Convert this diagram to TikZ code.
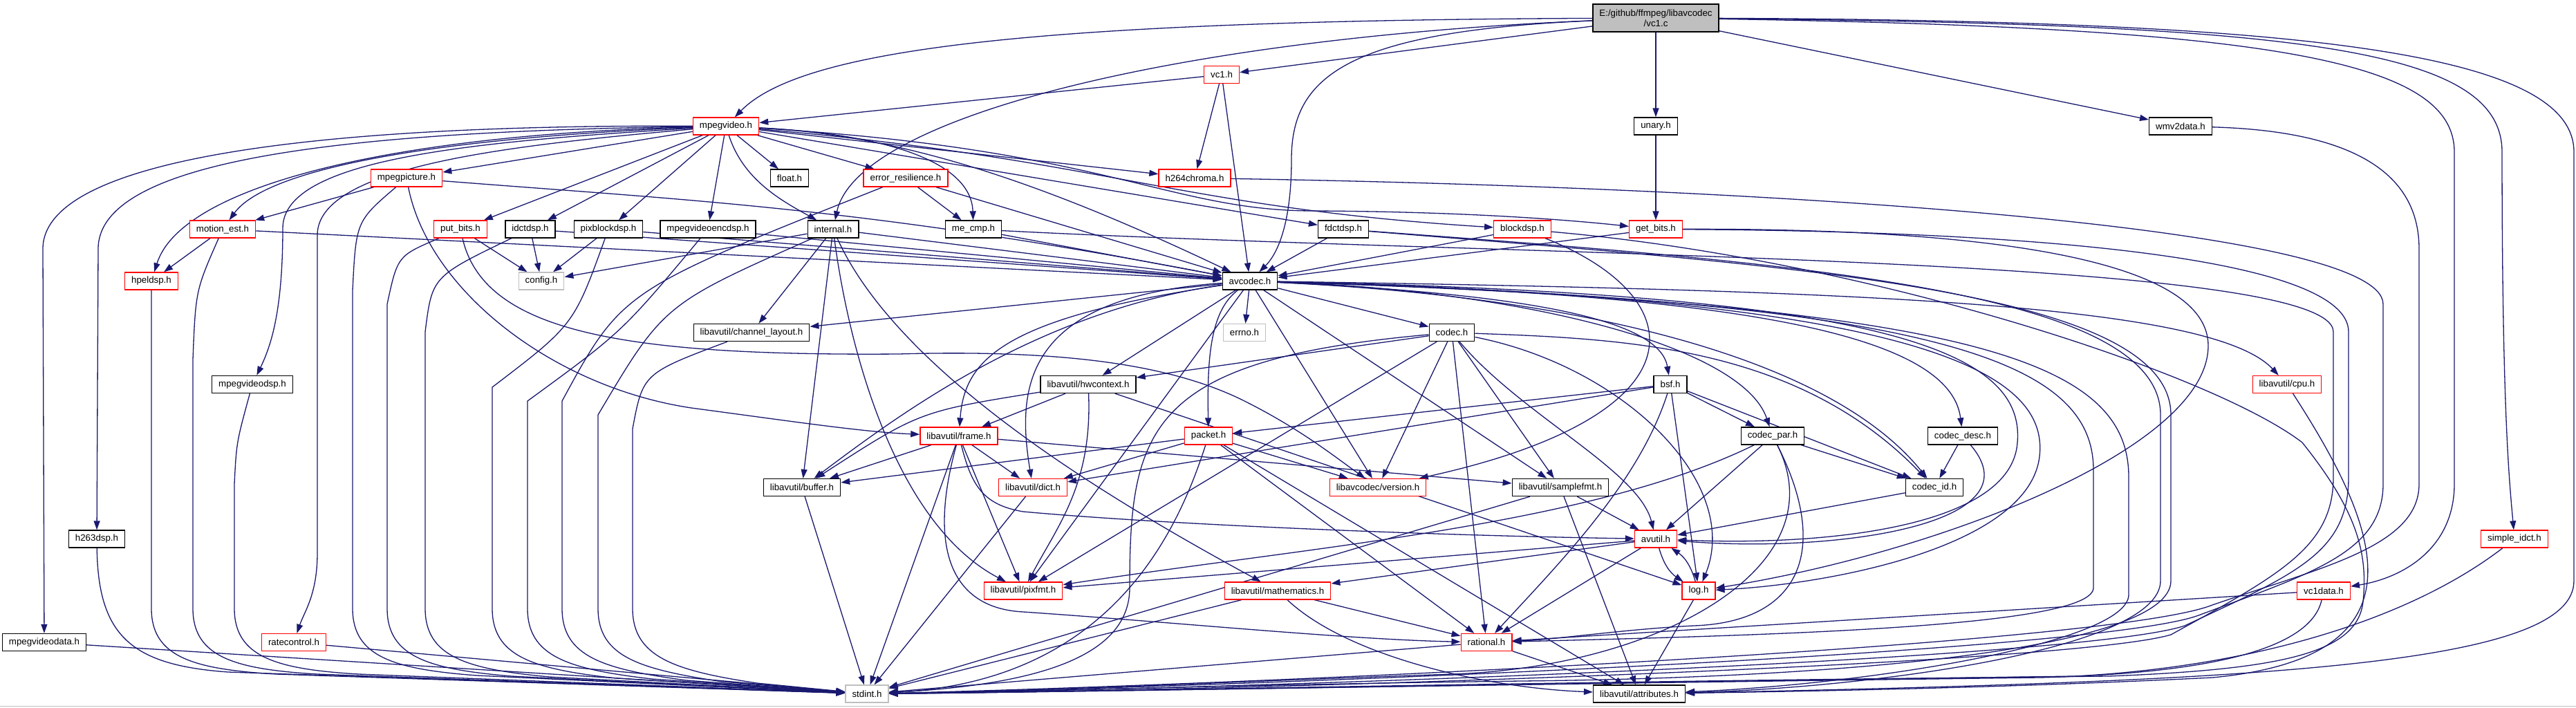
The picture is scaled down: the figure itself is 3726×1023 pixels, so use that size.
\documentclass[tikz,border=0pt]{standalone}
\usepackage{fontspec}
\setmainfont{Liberation Sans}
\usepackage{tikz}
\usetikzlibrary{arrows.meta}
\pgfdeclarelayer{background}
\pgfsetlayers{background,main}
\definecolor{edgeblue}{HTML}{191970}
\definecolor{grey75}{HTML}{BFBFBF}

\begin{document}
\begin{tikzpicture}[
  x=1pt, y=-1pt,
  line width=1.3pt,
  every node/.style={font=\fontsize{13.3}{15}\selectfont},
  hdr/.style={rectangle, fill=white, minimum height=25pt,
              inner xsep=9.5pt, inner ysep=0pt, line width=1.3pt},
  doc/.style={hdr, draw=black},
  cut/.style={hdr, draw=red},
  ext/.style={hdr, draw=grey75},
  dep/.style={draw=edgeblue, line width=1.3pt,
              -{Triangle[length=13pt,width=9pt]}}
]
\useasboundingbox (0,0) rectangle (3726,1023);
% the source file
\node[hdr, draw=black, fill=grey75, align=center, minimum height=40pt]
  (vc1c) at (2395,26) {E:/github/ffmpeg/libavcodec\\/vc1.c};
% libavcodec headers
\node[cut] (vc1h) at (1767,108) {vc1.h};
\node[cut] (mpegvideo) at (1050,182.5) {mpegvideo.h};
\node[doc] (unary) at (2395,182.5) {unary.h};
\node[doc] (wmv2data) at (3154,182.5) {wmv2data.h};
\node[cut] (mpegpicture) at (588,257.5) {mpegpicture.h};
\node[doc] (float) at (1142,257.5) {float.h};
\node[cut] (errres) at (1310,257.5) {error\_resilience.h};
\node[cut] (h264chroma) at (1728,257.5) {h264chroma.h};
\node[cut] (motionest) at (322,331.5) {motion\_est.h};
\node[cut] (putbits) at (666,331.5) {put\_bits.h};
\node[doc] (idctdsp) at (767,331.5) {idctdsp.h};
\node[doc] (pixblockdsp) at (880,331.5) {pixblockdsp.h};
\node[doc] (mpegvideoencdsp) at (1024,331.5) {mpegvideoencdsp.h};
\node[doc] (internal) at (1205,331.5) {internal.h};
\node[doc] (mecmp) at (1408,331.5) {me\_cmp.h};
\node[doc] (fdctdsp) at (1943,331.5) {fdctdsp.h};
\node[cut] (blockdsp) at (2202,331.5) {blockdsp.h};
\node[cut] (getbits) at (2395,331.5) {get\_bits.h};
\node[cut] (hpeldsp) at (219,406.5) {hpeldsp.h};
\node[ext] (config) at (783,406.5) {config.h};
\node[doc] (avcodec) at (1808,406.5) {avcodec.h};
\node[doc] (chlayout) at (1087,481) {libavutil/channel\_layout.h};
\node[ext] (errno) at (1800,481) {errno.h};
\node[doc] (codec) at (2100,481) {codec.h};
\node[doc] (mpegvideodsp) at (365,556) {mpegvideodsp.h};
\node[doc] (hwcontext) at (1574,556) {libavutil/hwcontext.h};
\node[doc] (bsf) at (2416,556) {bsf.h};
\node[cut] (cpu) at (3308,556) {libavutil/cpu.h};
\node[cut] (frame) at (1387,630.5) {libavutil/frame.h};
\node[cut] (packet) at (1748,630.5) {packet.h};
\node[doc] (codecpar) at (2564,630.5) {codec\_par.h};
\node[doc] (codecdesc) at (2839,630.5) {codec\_desc.h};
\node[doc] (buffer) at (1160,705) {libavutil/buffer.h};
\node[cut] (dict) at (1494,705) {libavutil/dict.h};
\node[cut] (version) at (1993,705) {libavcodec/version.h};
\node[doc] (samplefmt) at (2257,705) {libavutil/samplefmt.h};
\node[doc] (codecid) at (2798,705) {codec\_id.h};
\node[doc] (h263dsp) at (140,779.5) {h263dsp.h};
\node[cut] (avutil) at (2395,779.5) {avutil.h};
\node[cut] (simpleidct) at (3637,779.5) {simple\_idct.h};
\node[cut] (pixfmt) at (1480,854.5) {libavutil/pixfmt.h};
\node[cut] (mathematics) at (1848,854.5) {libavutil/mathematics.h};
\node[cut] (log) at (2457,854.5) {log.h};
\node[cut] (vc1data) at (3361,854.5) {vc1data.h};
\node[doc] (mpegvideodata) at (64,929) {mpegvideodata.h};
\node[cut] (ratecontrol) at (425,929) {ratecontrol.h};
\node[cut] (rational) at (2150,929) {rational.h};
\node[ext] (stdint) at (1254,1003.5) {stdint.h};
\node[doc] (attributes) at (2371,1003.5) {libavutil/attributes.h};

\begin{pgfonlayer}{background}
\fill[white] (0,0) rectangle (3726,1023);
\draw[grey75, line width=1.5pt] (0,1021.5) -- (3726,1021.5);
% straight includes
\foreach \src/\dst in {vc1c/vc1h, vc1c/unary, vc1c/wmv2data,
    vc1h/avcodec, vc1h/h264chroma, vc1h/mpegvideo,
    mpegvideo/float, mpegvideo/errres, mpegvideo/fdctdsp,
    mpegvideo/h264chroma, mpegvideo/mpegpicture, mpegvideo/putbits,
    mpegvideo/idctdsp, mpegvideo/pixblockdsp, mpegvideo/mpegvideoencdsp,
    unary/getbits, mpegpicture/motionest,
    motionest/hpeldsp, motionest/avcodec,
    putbits/config, idctdsp/config, idctdsp/avcodec,
    pixblockdsp/config, pixblockdsp/avcodec, mpegvideoencdsp/avcodec,
    internal/config, internal/chlayout, internal/buffer, internal/avcodec,
    errres/mecmp, errres/avcodec, mecmp/avcodec, fdctdsp/avcodec,
    blockdsp/avcodec, getbits/avcodec,
    avcodec/errno, avcodec/samplefmt, avcodec/chlayout, avcodec/hwcontext,
    avcodec/pixfmt, avcodec/codec, avcodec/version,
    codec/hwcontext, codec/pixfmt, codec/rational, codec/samplefmt,
    codec/version,
    bsf/dict, bsf/packet, bsf/log, bsf/codecid, bsf/codecpar,
    hwcontext/frame, hwcontext/log,
    frame/stdint, frame/buffer, frame/dict, frame/pixfmt, frame/samplefmt,
    packet/buffer, packet/dict, packet/version, packet/rational,
    packet/attributes,
    codecpar/codecid, codecpar/avutil, codecdesc/codecid, codecid/avutil,
    buffer/stdint, dict/stdint,
    samplefmt/avutil, samplefmt/attributes, samplefmt/stdint,
    avutil/rational, avutil/mathematics, avutil/pixfmt,
    log/attributes, mathematics/rational, mathematics/stdint,
    rational/stdint, rational/attributes, vc1data/rational,
    mpegvideodata/stdint, ratecontrol/stdint}
  \draw[dep] (\src) -- (\dst);

% vc1.c: long routes
\draw[dep] (vc1c) .. controls (1500,30) and (1160,70) .. (mpegvideo);
\draw[dep] (vc1c) .. controls (1700,55) and (1240,170) .. (internal);
\draw[dep] (vc1c) .. controls (1950,45) and (1868,110) .. (1868,230)
  .. controls (1868,330) and (1845,370) .. (avcodec);
\draw[dep] (vc1c) .. controls (3300,40) and (3550,90) .. (3550,220)
  -- (3550,700) .. controls (3550,790) and (3480,835) .. (vc1data);
\draw[dep] (vc1c) .. controls (3330,35) and (3619,70) .. (3619,220)
  .. controls (3619,600) and (3630,700) .. (simpleidct);
\draw[dep] (vc1c) .. controls (3360,30) and (3723,80) .. (3723,220)
  -- (3723,840) .. controls (3723,960) and (3300,985) .. (attributes);

% mpegvideo.h: left fan
\draw[dep] (mpegvideo) .. controls (450,180) and (62,230) .. (62,360)
  -- (mpegvideodata);
\draw[dep] (mpegvideo) .. controls (500,190) and (142,230) .. (142,360)
  -- (h263dsp);
\draw[dep] (mpegvideo) .. controls (560,195) and (262,270) .. (hpeldsp);
\draw[dep] (mpegvideo) .. controls (620,200) and (385,245) .. (motionest);
\draw[dep] (mpegvideo) .. controls (680,205) and (409,230) .. (409,330)
  .. controls (409,450) and (392,500) .. (mpegvideodsp);
\draw[dep] (mpegvideo) .. controls (740,210) and (459,240) .. (459,340)
  -- (459,800) .. controls (459,860) and (440,885) .. (ratecontrol);
% mpegvideo.h: right fan
\draw[dep] (mpegvideo) .. controls (1075,260) and (1130,290) .. (internal);
\draw[dep] (mpegvideo) .. controls (1300,195) and (1405,240) .. (mecmp);
\draw[dep] (mpegvideo) .. controls (1300,195) and (1500,260) .. (avcodec);
\draw[dep] (mpegvideo) .. controls (1600,230) and (1700,300) .. (blockdsp);
\draw[dep] (mpegvideo) .. controls (1600,215) and (1690,305) .. (1900,305)
  .. controls (2100,306) and (2250,316) .. (getbits);

% into stdint.h from the left
\draw[dep] (h263dsp) .. controls (142,920) and (190,962) .. (330,972) -- (stdint);
\draw[dep] (hpeldsp) -- (219,880) .. controls (219,950) and (279,968)
  .. (399,975) -- (stdint);
\draw[dep] (motionest) .. controls (283,420) .. (279,520) -- (279,880)
  .. controls (279,950) and (339,968) .. (459,975) -- (stdint);
\draw[dep] (mpegvideodsp) .. controls (342,640) .. (339,700) -- (339,880)
  .. controls (339,950) and (399,968) .. (519,975) -- (stdint);
\draw[dep] (mpegpicture) .. controls (515,320) .. (510,420) -- (510,880)
  .. controls (510,950) and (570,968) .. (690,977) -- (stdint);
\draw[dep] (putbits) .. controls (575,370) .. (560,440) -- (560,880)
  .. controls (560,950) and (620,968) .. (740,978) -- (stdint);
\draw[dep] (idctdsp) .. controls (625,400) .. (615,480) -- (615,880)
  .. controls (615,950) and (675,968) .. (795,979) -- (stdint);
\draw[dep] (pixblockdsp) .. controls (830,470) .. (712,560) -- (712,880)
  .. controls (712,950) and (772,968) .. (892,981) -- (stdint);
\draw[dep] (mpegvideoencdsp) .. controls (900,480) .. (763,580) -- (763,880)
  .. controls (763,950) and (823,968) .. (943,982) -- (stdint);
\draw[dep] (errres) .. controls (900,420) .. (813,580) -- (813,880)
  .. controls (813,950) and (873,968) .. (993,984) -- (stdint);
\draw[dep] (internal) .. controls (960,440) .. (865,600) -- (865,880)
  .. controls (865,950) and (925,968) .. (1045,986) -- (stdint);
\draw[dep] (chlayout) .. controls (930,540) .. (915,620) -- (915,880)
  .. controls (915,950) and (975,970) .. (1095,988) -- (stdint);

% other upper headers
\draw[dep] (mpegpicture) .. controls (1000,290) and (1250,300) .. (avcodec);
\draw[dep] (mpegpicture) .. controls (620,420) and (800,560) .. (1000,590)
  .. controls (1150,610) and (1250,625) .. (frame);
\draw[dep] (putbits) .. controls (700,480) and (900,515) .. (1300,512)
  .. controls (1550,505) and (1700,530) .. (1800,580)
  .. controls (1880,620) and (1930,660) .. (version);
\draw[dep] (internal) .. controls (1230,520) and (1300,760) .. (pixfmt);
\draw[dep] (internal) .. controls (1300,540) and (1600,720) .. (mathematics);
\draw[dep] (blockdsp) .. controls (2450,430) and (2470,600) .. (version);

% long routes round the right side
\draw[dep] (wmv2data) .. controls (3420,190) and (3499,260) .. (3499,360)
  -- (3499,700) .. controls (3499,790) and (3360,820) .. (3200,875)
  .. controls (3050,935) and (1800,990) .. (stdint);
\draw[dep] (h264chroma) .. controls (2600,272) and (3447,330) .. (3447,440)
  -- (3447,700) .. controls (3447,800) and (3340,830) .. (3180,890)
  .. controls (3030,945) and (1800,993) .. (stdint);
\draw[dep] (getbits) .. controls (3000,335) and (3397,380) .. (3397,480)
  -- (3397,690) .. controls (3397,800) and (3320,830) .. (3160,905)
  .. controls (3010,955) and (1800,996) .. (stdint);
\draw[dep] (mecmp) .. controls (2200,372) and (3375,370) .. (3375,480)
  -- (3375,690) .. controls (3375,790) and (3300,830) .. (3140,918)
  .. controls (2990,962) and (1800,999) .. (stdint);
\draw[dep] (getbits) .. controls (2900,330) and (3194,380) .. (3194,500)
  .. controls (3194,650) and (2800,800) .. (log);
\draw[dep] (blockdsp) .. controls (2700,375) and (3200,540) .. (3330,640)
  .. controls (3410,740) and (3425,800) .. (3418,870)
  .. controls (3410,945) and (3300,968) .. (3050,978)
  .. controls (2300,985) and (1600,1000) .. (stdint);
\draw[dep] (fdctdsp) .. controls (2600,380) and (3125,420) .. (3125,600)
  -- (3125,840) .. controls (3125,940) and (2700,995) .. (attributes);
\draw[dep] (fdctdsp) .. controls (2600,385) and (3140,420) .. (3140,600)
  -- (3140,840) .. controls (3140,935) and (2700,980) .. (2200,985)
  .. controls (1800,990) and (1500,1000) .. (stdint);

% avcodec.h fan
\draw[dep] (avcodec) .. controls (1750,450) and (1746,520) .. (packet);
\draw[dep] (avcodec) .. controls (1480,430) and (1470,560) .. (dict);
\draw[dep] (avcodec) .. controls (1450,460) and (1395,520) .. (frame);
\draw[dep] (avcodec) .. controls (1500,450) and (1300,600) .. (buffer);
\draw[dep] (avcodec) .. controls (2200,425) and (2400,460) .. (bsf);
\draw[dep] (avcodec) .. controls (2200,420) and (2520,500) .. (codecpar);
\draw[dep] (avcodec) .. controls (2300,430) and (2650,520) .. (codecid);
\draw[dep] (avcodec) .. controls (2500,425) and (2820,480) .. (codecdesc);
\draw[dep] (avcodec) .. controls (2700,420) and (3200,440) .. (cpu);
\draw[dep] (avcodec) .. controls (2700,425) and (2930,500) .. (2918,640)
  .. controls (2910,760) and (2650,790) .. (avutil);
\draw[dep] (avcodec) .. controls (2750,430) and (2965,530) .. (2950,660)
  .. controls (2935,790) and (2650,845) .. (log);
\draw[dep] (avcodec) .. controls (2800,435) and (3028,520) .. (3028,680)
  -- (3028,850) .. controls (3028,905) and (2600,918) .. (rational);
\draw[dep] (avcodec) .. controls (2850,440) and (3079,520) .. (3079,690)
  -- (3079,860) .. controls (3079,930) and (2700,990) .. (attributes);

% lower headers
\draw[dep] (codec) .. controls (1660,520) and (1634,620) .. (1634,850)
  .. controls (1634,950) and (1500,990) .. (stdint);
\draw[dep] (codec) .. controls (2200,600) and (2370,680) .. (avutil);
\draw[dep] (codec) .. controls (2350,530) and (2520,700) .. (log);
\draw[dep] (codec) .. controls (2350,490) and (2600,500) .. (codecid);
\draw[dep] (hwcontext) .. controls (1330,595) .. (buffer);
\draw[dep] (hwcontext) .. controls (1580,700) and (1530,760) .. (pixfmt);
\draw[dep] (frame) .. controls (1405,700) and (1420,730) .. (1480,740)
  .. controls (1700,760) and (2100,775) .. (avutil);
\draw[dep] (frame) .. controls (1340,800) and (1380,880) .. (1480,885)
  .. controls (1700,900) and (1950,925) .. (rational);
\draw[dep] (packet) .. controls (1700,780) and (1600,985) .. (stdint);
\draw[dep] (bsf) .. controls (2370,700) and (2250,820) .. (rational);
\draw[dep] (codecpar) .. controls (2650,800) and (2600,900) .. (2450,905)
  .. controls (2350,910) and (2250,925) .. (rational);
\draw[dep] (codecpar) .. controls (2300,760) and (1900,790) .. (pixfmt);
\draw[dep] (codecpar) .. controls (2660,820) and (2400,965) .. (2100,975)
  .. controls (1800,985) and (1500,1000) .. (stdint);
\draw[dep] (codecdesc) .. controls (2950,760) and (2650,800) .. (avutil);
\draw[dep] (avutil) to[bend right=20] (log);
\draw[dep] (log) to[bend right=20] (avutil);
\draw[dep] (mathematics) .. controls (1950,950) and (2150,995) .. (attributes);
\draw[dep] (vc1data) .. controls (3340,950) and (3150,975) .. (2950,980)
  .. controls (2300,988) and (1600,1000) .. (stdint);
\draw[dep] (simpleidct) .. controls (3480,900) and (3250,965) .. (3000,978)
  .. controls (2300,988) and (1600,1000) .. (stdint);
\draw[dep] (cpu) .. controls (3440,760) and (3520,950) .. (3200,980)
  .. controls (2900,995) and (2600,1000) .. (attributes);
\end{pgfonlayer}
\end{tikzpicture}
\end{document}
